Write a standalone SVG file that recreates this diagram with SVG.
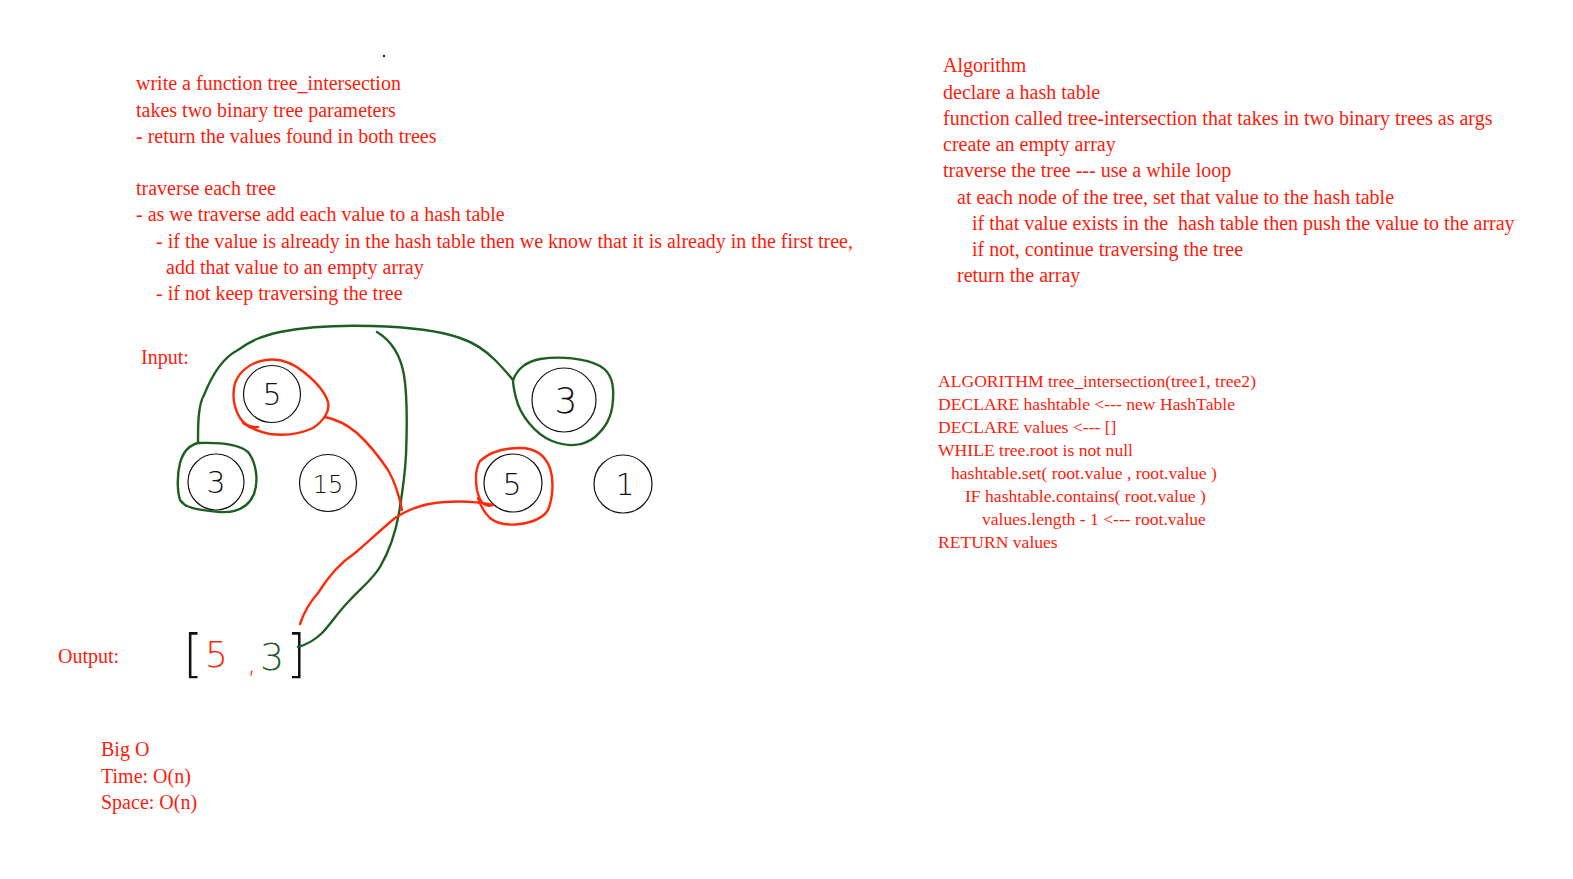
<svg xmlns="http://www.w3.org/2000/svg" width="1573" height="879" viewBox="0 0 1573 879">
<style>
.t{font-family:"Liberation Serif","Times New Roman",serif;font-size:20px;fill:#ff1a0a}
.p{font-family:"Liberation Serif","Times New Roman",serif;font-size:17.6px;fill:#ff1a0a}
.node{fill:none;stroke:#111;stroke-width:1.2}
.lbl{font-family:"DejaVu Sans","Liberation Sans",sans-serif;font-size:30px;font-weight:300;fill:#111;text-anchor:middle}
.g{fill:none;stroke:#1d5e22;stroke-width:2.4;stroke-linecap:round;stroke-linejoin:round}
.r{fill:none;stroke:#ff2a0a;stroke-width:2.4;stroke-linecap:round;stroke-linejoin:round}
.hw{font-family:"DejaVu Sans","Liberation Sans",sans-serif;font-weight:300}
</style>
<rect width="1573" height="879" fill="#ffffff"/>
<rect x="383" y="55" width="2" height="2" fill="#111"/>
<g id="problem-text">
<text class="t" x="136" y="90">write a function tree_intersection</text>
<text class="t" x="136" y="117">takes two binary tree parameters</text>
<text class="t" x="136" y="143">- return the values found in both trees</text>
<text class="t" x="136" y="195">traverse each tree</text>
<text class="t" x="136" y="221">- as we traverse add each value to a hash table</text>
<text class="t" x="156" y="248">- if the value is already in the hash table then we know that it is already in the first tree,</text>
<text class="t" x="166" y="274">add that value to an empty array</text>
<text class="t" x="156" y="300">- if not keep traversing the tree</text>
</g>
<g id="algorithm-text">
<text class="t" x="943" y="72">Algorithm</text>
<text class="t" x="943" y="99">declare a hash table</text>
<text class="t" x="943" y="125">function called tree-intersection that takes in two binary trees as args</text>
<text class="t" x="943" y="151">create an empty array</text>
<text class="t" x="943" y="177">traverse the tree --- use a while loop</text>
<text class="t" x="957" y="204">at each node of the tree, set that value to the hash table</text>
<text class="t" x="972" y="230" xml:space="preserve">if that value exists in the  hash table then push the value to the array</text>
<text class="t" x="972" y="256">if not, continue traversing the tree</text>
<text class="t" x="957" y="282">return the array</text>
</g>
<g id="pseudocode">
<text class="p" x="938" y="387">ALGORITHM tree_intersection(tree1, tree2)</text>
<text class="p" x="938" y="410">DECLARE hashtable &lt;--- new HashTable</text>
<text class="p" x="938" y="433">DECLARE values &lt;--- []</text>
<text class="p" x="938" y="456">WHILE tree.root is not null</text>
<text class="p" x="951" y="479">hashtable.set( root.value , root.value )</text>
<text class="p" x="965" y="502">IF hashtable.contains( root.value )</text>
<text class="p" x="982" y="525">values.length - 1 &lt;--- root.value</text>
<text class="p" x="938" y="548">RETURN values</text>
</g>
<g id="labels">
<text class="t" x="141" y="364">Input:</text>
<text class="t" x="58" y="663">Output:</text>
<text class="t" x="101" y="756">Big O</text>
<text class="t" x="101" y="783">Time: O(n)</text>
<text class="t" x="101" y="809">Space: O(n)</text>
</g>
<g id="node-5a"><circle class="node" cx="272" cy="394" r="28.5"/><text class="lbl" x="272" y="405">5</text></g>
<g id="node-3a"><circle class="node" cx="216" cy="482" r="28"/><text class="lbl" x="216" y="493">3</text></g>
<g id="node-15"><circle class="node" cx="328" cy="483" r="28.5"/><text class="lbl" x="328" y="493" style="font-size:24px">15</text></g>
<g id="node-3b"><circle class="node" cx="564" cy="400" r="32"/><text class="lbl" x="566" y="413" style="font-size:36px">3</text></g>
<g id="node-5b"><circle class="node" cx="513" cy="483" r="29"/><text class="lbl" x="512" y="495">5</text></g>
<g id="node-1"><circle class="node" cx="623" cy="484" r="29"/><text class="lbl" x="625" y="495">1</text></g>
<g id="output">
<text class="hw" x="183" y="671" style="font-size:52px;fill:#111">[</text>
<text class="hw" x="205" y="667" style="font-size:36px;fill:#ff2a0a">5</text>
<text class="hw" x="247" y="672" style="font-size:30px;fill:#ff2a0a">,</text>
<text class="hw" x="260" y="670" style="font-size:38px;fill:#1d5e22">3</text>
<text class="hw" x="286" y="671" style="font-size:52px;fill:#111">]</text>
</g>
<g id="connectors">
<path class="g" d="M198,443 C198,425 198,405 204,395 C212,375 222,358 238,350 C252,340 262,336 280,332 C310,326 340,325 372,326 C410,327 440,331 460,338 C475,343 485,350 495,360 C503,368 508,374 513,380"/>
<path class="g" d="M513,380 C518,368 526,362 540,359 C560,356 585,358 600,366 C612,373 614,385 613,400 C612,418 605,428 595,437 C585,445 570,448 552,441 C535,434 520,415 516,398 C514,390 513,385 513,380"/>
<path class="g" d="M198,443 C190,445 183,452 180,463 C177,475 177,490 180,500 C184,507 195,510 220,512 C236,513 248,508 254,494 C259,480 256,462 248,452 C240,445 225,442 198,443 M180,500 L186,506"/>
<path class="g" d="M377,332 C390,340 400,352 404,375 C408,400 407,430 406,455 C405,475 402,495 399,513 C396,530 390,550 380,567 C372,580 362,587 350,600 C338,612 330,625 322,633 C315,640 305,645 298,647"/>
<path class="r" d="M258,427 C250,428 244,424 240,418 C234,408 232,395 235,383 C240,370 252,362 266,360 C280,358 293,363 305,373 C316,382 325,392 328,402 C330,410 325,420 313,428 C300,434 285,436 270,434 C260,432 250,428 243,423"/>
<path class="r" d="M325,417 C335,419 345,423 357,433 C370,445 380,458 388,470 C395,482 399,495 402,510"/>
<path class="r" d="M300,624 C304,612 310,602 318,593 C328,577 340,563 355,553 C370,540 383,528 395,518 C410,508 425,503 445,502 C460,501 475,501 493,505"/>
<path class="r" d="M493,505 C485,508 480,503 477,490 C475,478 476,468 480,461 C490,452 505,448 520,448 C535,448 545,455 550,468 C554,480 553,498 548,510 C543,518 535,522 520,524 C505,526 495,522 490,518 C484,512 480,505 478,498"/>
</g>
</svg>
